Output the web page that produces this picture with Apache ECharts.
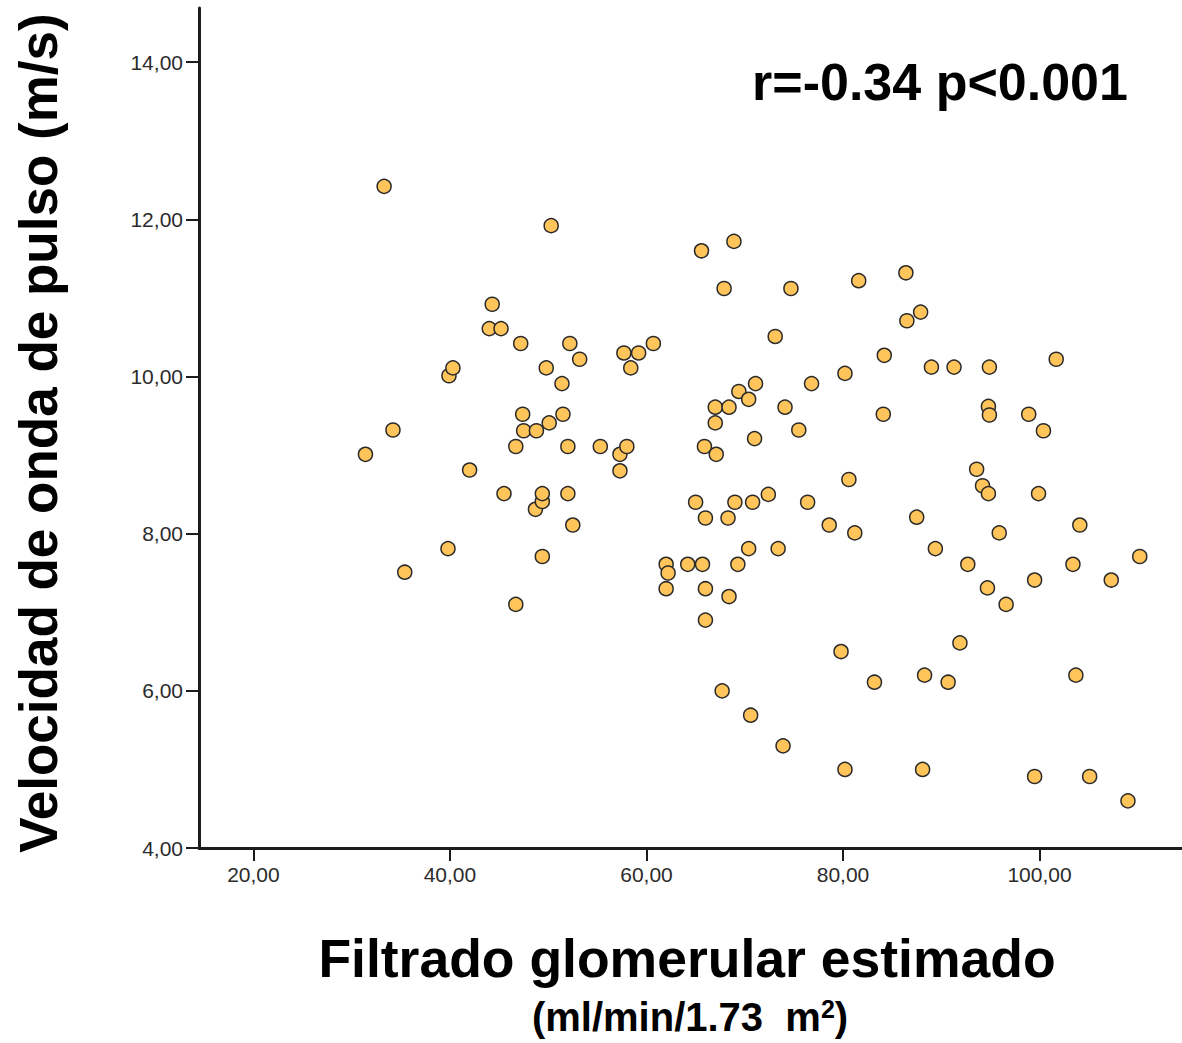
<!DOCTYPE html>
<html>
<head>
<meta charset="utf-8">
<script src="https://cdn.jsdelivr.net/npm/echarts@6/dist/echarts.min.js"></script>
<style>
  html, body { margin: 0; padding: 0; background: #ffffff; }
  #chart { width: 1182px; height: 1043px; }
</style>
</head>
<body>
<div id="chart"></div>
<script>
// Estimated glomerular filtration rate (ml/min/1.73 m2) per patient
const gfr = [
  33.3, 50.3, 31.4, 34.2, 35.4, 39.9, 40.3, 39.8, 42.0, 44.3,
  44.0, 45.2, 45.5, 46.7, 47.2, 47.4, 46.7, 47.5, 48.8, 48.7,
  49.4, 49.4, 49.4, 49.8, 50.1, 51.4, 51.5, 52.0, 52.2, 53.2,
  52.0, 52.5, 55.3, 57.3, 57.3, 58.0, 57.7, 58.4, 59.2, 60.7,
  62.0, 62.2, 62.0, 64.2, 65.0, 65.7, 66.0, 66.0, 65.6, 65.9,
  66.0, 67.1, 67.0, 67.0, 67.7, 67.9, 68.4, 68.3, 68.4, 68.9,
  69.0, 69.3, 69.4, 70.4, 70.4, 70.6, 70.8, 71.0, 71.1, 72.4,
  73.1, 73.4, 73.9, 74.1, 74.7, 75.5, 76.4, 76.8, 78.6, 79.8,
  80.2, 80.6, 80.2, 81.2, 81.6, 83.2, 84.2, 84.1, 86.4, 86.5,
  87.9, 87.5, 88.3, 88.1, 89.0, 89.4, 90.7, 91.3, 91.9, 92.7,
  93.6, 94.2, 94.8, 94.7, 94.8, 94.9, 94.9, 95.9, 96.6, 98.9,
  99.5, 99.5, 99.9, 100.4, 101.7, 103.4, 103.7, 104.1, 105.1, 107.3,
  109.0, 110.2
];

// Pulse wave velocity (m/s) for the same patients
const pwv = [
  12.42, 11.92, 9.01, 9.32, 7.51, 10.01, 10.11, 7.81, 8.81, 10.92,
  10.61, 10.61, 8.51, 7.10, 10.42, 9.52, 9.11, 9.31, 9.31, 8.31,
  8.41, 8.51, 7.71, 10.11, 9.41, 9.91, 9.52, 9.11, 10.42, 10.22,
  8.51, 8.11, 9.11, 8.80, 9.01, 9.11, 10.30, 10.11, 10.30, 10.42,
  7.61, 7.50, 7.30, 7.61, 8.40, 7.61, 7.30, 6.90, 11.60, 9.11,
  8.20, 9.01, 9.41, 9.61, 6.00, 11.12, 9.61, 8.20, 7.20, 11.72,
  8.40, 7.61, 9.81, 9.71, 7.81, 5.69, 8.40, 9.21, 9.91, 8.50,
  10.51, 7.81, 5.30, 9.61, 11.12, 9.32, 8.40, 9.91, 8.11, 6.50,
  10.04, 8.69, 5.00, 8.01, 11.22, 6.11, 10.27, 9.52, 11.32, 10.71,
  10.82, 8.21, 6.20, 5.00, 10.12, 7.81, 6.11, 10.12, 6.61, 7.61,
  8.82, 8.61, 8.51, 7.31, 9.62, 9.51, 10.12, 8.01, 7.10, 9.52,
  7.41, 4.91, 8.51, 9.31, 10.22, 7.61, 6.20, 8.11, 4.91, 7.41,
  4.60, 7.71
];

const xTicks = [20, 40, 60, 80, 100];
const yTicks = [4, 6, 8, 10, 12, 14];

const FONT = '"Liberation Sans", Arial, Helvetica, sans-serif';
const fmt = v => Number(v).toFixed(2).replace('.', ',');

const points = gfr.map((x, i) => [x, pwv[i]]);

const axisCommon = {
  type: 'value',
  splitLine: { show: false },
  axisLine: { show: true, onZero: false, lineStyle: { color: '#1c1c1c', width: 3 } },
  axisTick: { show: true, length: 13, lineStyle: { color: '#1c1c1c', width: 2 } },
  axisLabel: { formatter: fmt, fontSize: 21, color: '#2b2b2b', fontFamily: FONT, margin: 16 }
};

const chart = echarts.init(document.getElementById('chart'), null, { renderer: 'svg' });

chart.setOption({
  animation: false,
  backgroundColor: '#ffffff',
  grid: { left: 199, right: 0, top: 8, bottom: 195, containLabel: false },
  xAxis: Object.assign({}, axisCommon, {
    min: 14.46,
    max: 114.5,
    axisTick: Object.assign({}, axisCommon.axisTick, { customValues: xTicks }),
    axisLabel: Object.assign({}, axisCommon.axisLabel, { customValues: xTicks })
  }),
  yAxis: Object.assign({}, axisCommon, {
    min: 4,
    max: 14.69,
    axisTick: Object.assign({}, axisCommon.axisTick, { customValues: yTicks }),
    axisLabel: Object.assign({}, axisCommon.axisLabel, { customValues: yTicks })
  }),
  series: [{
    type: 'scatter',
    data: points,
    symbol: 'circle',
    symbolSize: 14,
    itemStyle: { color: '#ffc45a', borderColor: '#2a2a2a', borderWidth: 1.5, opacity: 1 },
    emphasis: { disabled: true }
  }],
  graphic: [
    {
      type: 'text',
      x: 38, y: 433,
      rotation: Math.PI / 2,
      style: {
        text: 'Velocidad de onda de pulso (m/s)',
        fontFamily: FONT, fontWeight: 'bold', fontSize: 53,
        fill: '#000', align: 'center', verticalAlign: 'middle'
      }
    },
    {
      type: 'text',
      x: 687, y: 958,
      style: {
        text: 'Filtrado glomerular estimado',
        fontFamily: FONT, fontWeight: 'bold', fontSize: 53.5,
        fill: '#000', align: 'center', verticalAlign: 'middle'
      }
    },
    {
      type: 'text',
      x: 690, y: 1017,
      style: {
        text: '{b|(ml/min/1.73  m}{s|2}{b|)}',
        align: 'center', verticalAlign: 'middle',
        rich: {
          b: { fontFamily: FONT, fontWeight: 'bold', fontSize: 40, fill: '#000', color: '#000' },
          s: { fontFamily: FONT, fontWeight: 'bold', fontSize: 25, fill: '#000', color: '#000', padding: [0, 0, 16, 0] }
        }
      }
    },
    {
      type: 'text',
      x: 940, y: 82,
      style: {
        text: 'r=-0.34 p<0.001',
        fontFamily: FONT, fontWeight: 'bold', fontSize: 52,
        fill: '#000', align: 'center', verticalAlign: 'middle'
      }
    }
  ]
});
</script>
</body>
</html>
